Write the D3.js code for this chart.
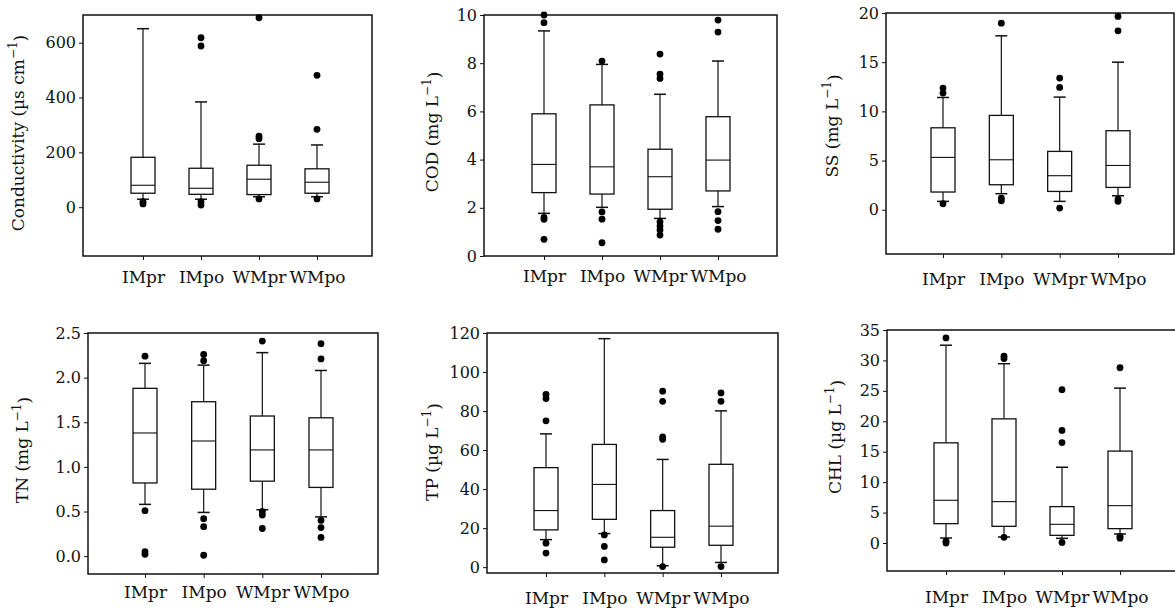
<!DOCTYPE html>
<html>
<head>
<meta charset="utf-8">
<script src="https://cdn.jsdelivr.net/npm/d3@7"></script>
<style>
  body { margin: 0; background: #fff; }
  svg { display: block; }
  .axis text { font-family: "DejaVu Serif", serif; fill: #111; }
  .axis line { stroke: #111; }
</style>
</head>
<body>
<div id="chart"></div>
<script>
var groups = ["IMpr", "IMpo", "WMpr", "WMpo"];

// box stats per group: [lower whisker, q1, median, q3, upper whisker]
var condBox = [[29, 51, 80, 182, 651], [29, 47, 69, 142, 384], [38, 46, 102, 153, 230], [38, 51, 91, 140, 227]];
var condOut = [[20, 12], [618, 588, 20, 8], [691, 259, 250, 30], [481, 284, 30]];
var condTicks = [0, 200, 400, 600];

var codBox = [[1.77, 2.63, 3.8, 5.9, 9.34], [2.02, 2.57, 3.7, 6.27, 7.95], [1.56, 1.94, 3.29, 4.43, 6.71], [2.05, 2.7, 3.98, 5.78, 8.09]];
var codOut = [[10.0, 9.68, 1.6, 1.52, 0.69], [8.09, 1.83, 1.53, 0.55], [8.38, 7.55, 7.37, 1.42, 1.24, 1.08, 0.87], [9.79, 9.29, 1.84, 1.47, 1.11]];
var codTicks = [0, 2, 4, 6, 8, 10];

var ssBox = [[0.85, 1.8, 5.32, 8.33, 11.41], [1.63, 2.54, 5.08, 9.59, 17.68], [0.85, 1.86, 3.46, 5.93, 11.45], [1.42, 2.27, 4.5, 8.03, 15.0]];
var ssOut = [[12.37, 11.86, 0.61], [18.97, 1.19, 0.91], [13.38, 12.43, 0.17], [19.65, 18.19, 1.08, 0.85]];
var ssTicks = [0, 5, 10, 15, 20];

var tnBox = [[0.58, 0.82, 1.38, 1.88, 2.16], [0.49, 0.75, 1.29, 1.73, 2.14], [0.52, 0.84, 1.19, 1.57, 2.28], [0.44, 0.77, 1.19, 1.55, 2.08]];
var tnOut = [[2.24, 0.51, 0.05, 0.02], [2.26, 2.19, 0.42, 0.33, 0.01], [2.41, 0.50, 0.46, 0.31], [2.38, 2.21, 0.40, 0.32, 0.21]];
var tnTicks = [0, 0.5, 1, 1.5, 2, 2.5];

var tpBox = [[14.1, 19.1, 29, 51, 68.3], [17.2, 24.5, 42.4, 62.9, 117.1], [0.7, 10.2, 15.3, 29, 55.2], [2.4, 11.2, 21, 52.7, 80.1]];
var tpOut = [[88.5, 86.4, 75, 12.3, 7.2], [16.5, 10.6, 3.7], [90.2, 85, 66.8, 65.5, 0.3], [89.3, 85, 0.3]];
var tpTicks = [0, 20, 40, 60, 80, 100, 120];

var chlBox = [[0.82, 3.18, 7.02, 16.46, 32.5], [0.99, 2.74, 6.8, 20.4, 29.46], [0.77, 1.26, 3.07, 5.98, 12.45], [1.48, 2.36, 6.14, 15.1, 25.45]];
var chlOut = [[33.7, 0.3, 0.0], [30.7, 30.3, 0.93], [25.2, 18.5, 16.5, 0.1], [28.8, 1.1, 0.8]];
var chlTicks = [0, 5, 10, 15, 20, 25, 30, 35];

var w = 1175;
var h = 610;

var panels = [
  { name: "Conductivity (\u00b5s cm", box: condBox, out: condOut, ticks: condTicks, fmt: d3.format("d"), lo: -178, hi: 701,
    x: 83, y: 15, w: 289, h: 241, c0: 60, c1: 234, lx: 18, ly: 133, xl: 27 },
  { name: "COD (mg L", box: codBox, out: codOut, ticks: codTicks, fmt: d3.format("d"), lo: 0, hi: 10,
    x: 484, y: 15, w: 293, h: 241, c0: 60, c1: 234, lx: 432, ly: 132, xl: 26 },
  { name: "SS (mg L", box: ssBox, out: ssOut, ticks: ssTicks, fmt: d3.format("d"), lo: -4.5, hi: 20,
    x: 886, y: 13, w: 288, h: 241, c0: 57, c1: 232, lx: 832, ly: 126, xl: 31 },
  { name: "TN (mg L", box: tnBox, out: tnOut, ticks: tnTicks, fmt: d3.format(".1f"), lo: -0.2, hi: 2.5,
    x: 88, y: 333, w: 290, h: 241, c0: 57, c1: 233, lx: 22, ly: 450, xl: 24 },
  { name: "TP (\u00b5g L", box: tpBox, out: tpOut, ticks: tpTicks, fmt: d3.format("d"), lo: -3, hi: 120,
    x: 487, y: 333, w: 291, h: 240, c0: 59, c1: 234, lx: 432, ly: 452, xl: 31 },
  { name: "CHL (\u00b5g L", box: chlBox, out: chlOut, ticks: chlTicks, fmt: d3.format("d"), lo: -4.6, hi: 35,
    x: 887, y: 330, w: 295, h: 241, c0: 59, c1: 233, lx: 835, ly: 437, xl: 32 }
];

var svg = d3.select("#chart")
            .append("svg")
            .attr("width", w)
            .attr("height", h);

panels.forEach(function(p){

  var xScale = d3.scalePoint()
                 .domain(groups)
                 .range([p.x + p.c0, p.x + p.c1]);

  var yScale = d3.scaleLinear()
                 .domain([p.lo, p.hi])
                 .range([p.y + p.h, p.y]);

  var g = svg.append("g");

  // y axis
  var yAxis = d3.axisLeft(yScale)
                .tickValues(p.ticks)
                .tickFormat(p.fmt)
                .tickSize(4)
                .tickPadding(3);

  g.append("g")
   .attr("class", "axis")
   .attr("transform", "translate(" + p.x + ",0)")
   .call(yAxis)
   .call(function(a){ a.select(".domain").remove(); })
   .selectAll("text")
   .style("font-size", "16px");

  // x axis
  var xAxis = d3.axisBottom(xScale)
                .tickSize(4)
                .tickSizeOuter(0);

  g.append("g")
   .attr("class", "axis")
   .attr("transform", "translate(0," + (p.y + p.h) + ")")
   .call(xAxis)
   .call(function(a){ a.select(".domain").remove(); })
   .selectAll("text")
   .attr("y", p.xl)
   .attr("dy", 0)
   .style("font-size", "17px");

  // frame
  g.append("rect")
   .attr("x", p.x)
   .attr("y", p.y)
   .attr("width", p.w)
   .attr("height", p.h)
   .attr("fill", "none")
   .attr("stroke", "#111")
   .attr("stroke-width", 1.5);

  // y label
  var lab = g.append("text")
             .attr("transform", "translate(" + p.lx + "," + p.ly + ") rotate(-90)")
             .attr("text-anchor", "middle")
             .attr("dominant-baseline", "central")
             .attr("font-family", "DejaVu Serif, serif")
             .attr("font-size", "17px")
             .attr("fill", "#111");
  lab.append("tspan").text(p.name);
  lab.append("tspan")
     .attr("dy", "-0.45em")
     .attr("font-size", "12px")
     .text("\u22121");
  lab.append("tspan")
     .attr("dy", "0.45em")
     .text(")");

  var bw = 24;
  var cw = 12;

  var boxes = g.selectAll(".box")
               .data(p.box)
               .enter()
               .append("g")
               .attr("class", "box");

  // whiskers
  boxes.append("line")
       .attr("x1", function(d, i){ return xScale(groups[i]); })
       .attr("x2", function(d, i){ return xScale(groups[i]); })
       .attr("y1", function(d){ return yScale(d[0]); })
       .attr("y2", function(d){ return yScale(d[4]); })
       .attr("stroke", "#111")
       .attr("stroke-width", 1.2);

  // caps
  [0, 4].forEach(function(k){
    boxes.append("line")
         .attr("x1", function(d, i){ return xScale(groups[i]) - cw / 2; })
         .attr("x2", function(d, i){ return xScale(groups[i]) + cw / 2; })
         .attr("y1", function(d){ return yScale(d[k]); })
         .attr("y2", function(d){ return yScale(d[k]); })
         .attr("stroke", "#111")
         .attr("stroke-width", 1.5);
  });

  boxes.append("rect")
       .attr("x", function(d, i){ return xScale(groups[i]) - bw / 2; })
       .attr("y", function(d){ return yScale(d[3]); })
       .attr("width", bw)
       .attr("height", function(d){ return yScale(d[1]) - yScale(d[3]); })
       .attr("fill", "#fff")
       .attr("stroke", "#111")
       .attr("stroke-width", 1.3);

  boxes.append("line")
       .attr("x1", function(d, i){ return xScale(groups[i]) - bw / 2; })
       .attr("x2", function(d, i){ return xScale(groups[i]) + bw / 2; })
       .attr("y1", function(d){ return yScale(d[2]); })
       .attr("y2", function(d){ return yScale(d[2]); })
       .attr("stroke", "#111")
       .attr("stroke-width", 1.1);

  // outliers
  var pts = [];
  p.out.forEach(function(vals, i){
    vals.forEach(function(v){ pts.push([groups[i], v]); });
  });

  g.selectAll(".pt")
   .data(pts)
   .enter()
   .append("circle")
   .attr("class", "pt")
   .attr("cx", function(d){ return xScale(d[0]); })
   .attr("cy", function(d){ return yScale(d[1]); })
   .attr("r", 3.4)
   .attr("fill", "#000");
});
</script>
</body>
</html>
